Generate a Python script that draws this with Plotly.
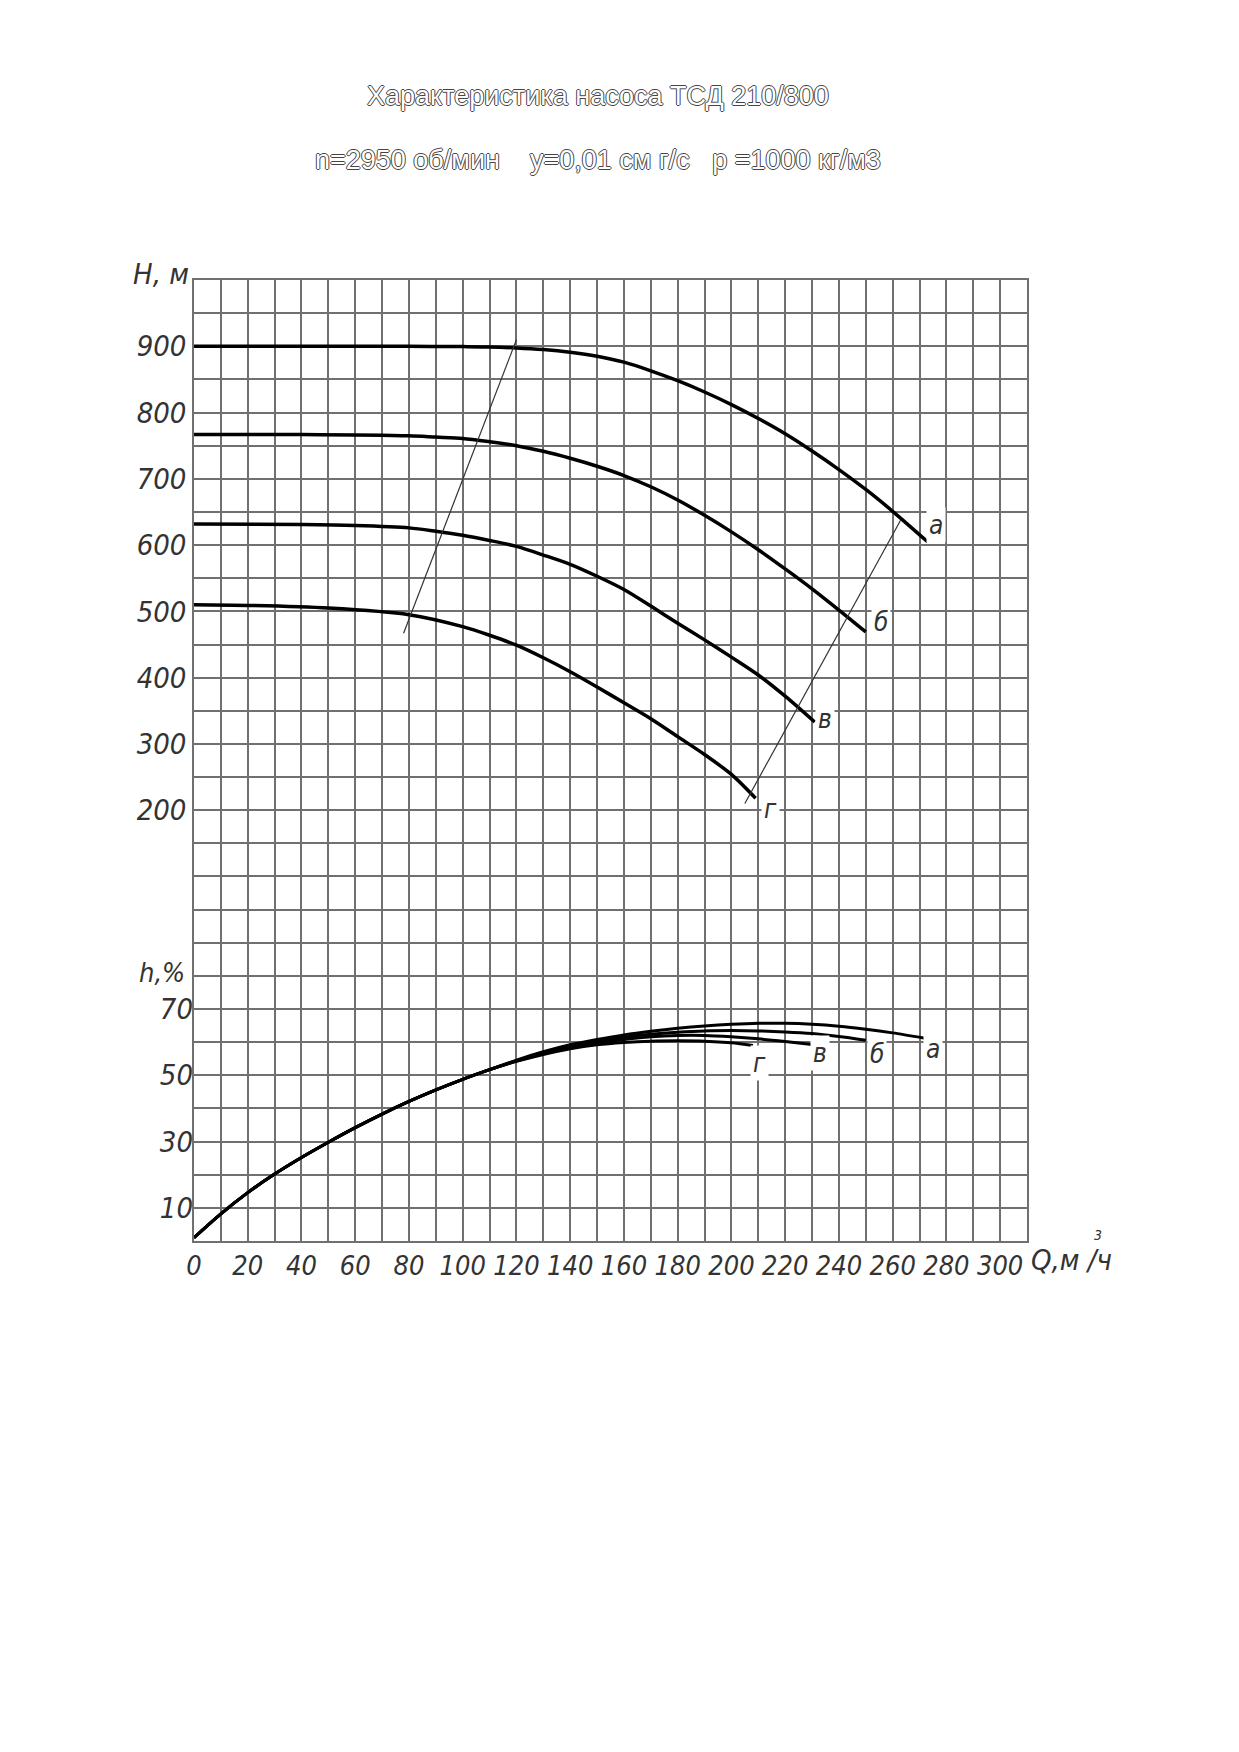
import plotly.graph_objects as go

# --- head curves H(Q), Q in m3/h, H in m ---
Q_a = [0, 40, 80, 100, 110, 120, 130, 140, 150, 160, 170, 180, 190, 200, 210, 220, 230, 240, 250, 260, 273]
H_a = [900, 900, 900, 899.5, 899, 897.5, 895, 891, 885, 876, 863, 848, 831, 812, 791, 768, 742, 714, 684, 651, 605]

Q_b = [0, 40, 80, 90, 100, 110, 120, 130, 140, 150, 160, 170, 180, 190, 200, 210, 220, 230, 240, 250]
H_b = [767, 767, 765, 763, 761, 756, 750, 741.5, 731, 719, 705, 688, 668, 645, 620, 593, 564, 534, 502, 469]

Q_v = [0, 40, 60, 80, 90, 100, 110, 120, 130, 140, 150, 160, 170, 180, 190, 200, 210, 220, 231]
H_v = [632, 631, 629.5, 626, 621, 615, 607, 598, 585, 571, 553, 533, 508, 482, 457, 431, 404, 372, 333]

Q_g = [0, 20, 50, 80, 100, 110, 120, 130, 140, 150, 160, 170, 180, 190, 200, 209]
H_g = [510, 509, 505, 495, 477, 464, 449, 430, 409, 386, 362, 338, 311, 284, 254, 218]

# working range boundaries (thin lines)
Q_left = [78, 120]
H_left = [467, 910]
Q_right = [205, 263]
H_right = [210, 638]

# --- efficiency curves, % ---
Q_eta_common = [0, 10, 20, 30, 40, 50, 60, 70, 80, 90, 100, 110]
eta_common = [1, 8.2, 14.6, 20.2, 25.2, 29.8, 34.2, 38.3, 42.1, 45.6, 48.8, 51.7]

Q_eta_a = [120, 130, 140, 150, 160, 170, 180, 190, 200, 210, 220, 230, 240, 250, 260, 272]
eta_a = [54.6, 57.1, 59.2, 60.8, 62.2, 63.3, 64.2, 64.9, 65.4, 65.7, 65.7, 65.4, 64.8, 63.9, 62.8, 61.2]
Q_eta_b = [120, 130, 140, 150, 160, 170, 180, 190, 200, 210, 220, 230, 240, 250]
eta_b = [54.4, 56.8, 58.8, 60.3, 61.5, 62.4, 63.0, 63.4, 63.5, 63.4, 63.1, 62.6, 61.7, 60.6]
Q_eta_v = [120, 130, 140, 150, 160, 170, 180, 190, 200, 210, 220, 230]
eta_v = [54.3, 56.6, 58.4, 59.8, 60.8, 61.6, 62.0, 62.0, 61.6, 61.0, 60.2, 59.3]
Q_eta_g = [120, 130, 140, 150, 160, 170, 180, 190, 200, 208]
eta_g = [54.2, 56.3, 58.0, 59.2, 59.9, 60.3, 60.4, 60.3, 59.8, 59.0]

# curve labels: name, Q, value
H_labels = [("а", 276, 630), ("б", 255.5, 484), ("в", 234.7, 338), ("г", 214.6, 202)]
eta_labels = [("а", 275, 57.8), ("б", 254.3, 56.3), ("в", 233, 56.8), ("г", 210.5, 53.8)]

H_ticks = [200, 300, 400, 500, 600, 700, 800, 900]
eta_ticks = [10, 30, 50, 70]
Q_ticks = list(range(0, 301, 20))

GRID = "#707070"
LBL_FONT = dict(family="Liberation Sans Narrow, DejaVu Sans Condensed, Liberation Sans, sans-serif",
                size=29, color="#333333", style="italic")

fig = go.Figure()

for q, h in [(Q_a, H_a), (Q_b, H_b), (Q_v, H_v), (Q_g, H_g)]:
    fig.add_trace(go.Scatter(x=q, y=h, mode="lines",
                             line=dict(color="black", width=3.5, shape="spline", smoothing=0.8)))

for q, h in [(Q_left, H_left), (Q_right, H_right)]:
    fig.add_trace(go.Scatter(x=q, y=h, mode="lines", line=dict(color="#333333", width=1.2)))

for q, e in [(Q_eta_a, eta_a), (Q_eta_b, eta_b), (Q_eta_v, eta_v), (Q_eta_g, eta_g)]:
    fig.add_trace(go.Scatter(x=Q_eta_common + q, y=eta_common + e, mode="lines", yaxis="y2",
                             line=dict(color="black", width=3, shape="spline", smoothing=0.8)))

# H grid every 50 m over the full height, labels only at H_ticks
grid_vals = list(range(-450, 1001, 50))
grid_text = [str(v) if v in H_ticks else "" for v in grid_vals]

annotations = []
for name, q, h in H_labels:
    annotations.append(dict(x=q, y=h, xref="x", yref="y", text=name, showarrow=False,
                            font=dict(LBL_FONT, size=26), bgcolor="white", borderpad=2))
for name, q, e in eta_labels:
    annotations.append(dict(x=q, y=e, xref="x", yref="y2", text=name, showarrow=False,
                            font=dict(LBL_FONT, size=26), bgcolor="white", borderpad=2))

annotations += [
    dict(x=-0.004, y=1.0065, xref="paper", yref="paper", text="H, м", showarrow=False,
         xanchor="right", yanchor="middle", font=LBL_FONT),
    dict(x=-0.008, y=0.279, xref="paper", yref="paper", text="h,%", showarrow=False,
         xanchor="right", yanchor="middle", font=dict(LBL_FONT, size=27)),
    dict(x=1.003, y=-0.0198, xref="paper", yref="paper", text="Q,м /ч", showarrow=False,
         xanchor="left", yanchor="middle", font=LBL_FONT),
    dict(x=1.092, y=0.006, xref="paper", yref="paper", text="3", showarrow=False,
         yanchor="middle", font=dict(LBL_FONT, size=14)),
]

TITLE_FONT = dict(family="Liberation Sans, Arial, sans-serif", size=27, color="white",
                  shadow="-1px 0 #444, 1px 0 #444, 0 -1px #444, 0 1px #444")
annotations += [
    dict(x=0.4844, y=1.1915, xref="paper", yref="paper", text="Характеристика насоса ТСД 210/800",
         showarrow=False, font=TITLE_FONT, yanchor="middle"),
    dict(x=0.4844, y=1.125, xref="paper", yref="paper",
         text="n=2950 об/мин&nbsp;&nbsp;&nbsp;&nbsp;y=0,01 см г/с&nbsp;&nbsp;&nbsp;p =1000 кг/м3",
         showarrow=False, font=TITLE_FONT, yanchor="middle"),
]

fig.update_layout(
    width=1239, height=1752,
    margin=dict(l=186, r=220, t=272, b=519),
    paper_bgcolor="white", plot_bgcolor="white",
    showlegend=False,
    annotations=annotations,
    xaxis=dict(range=[0, 310], tickmode="array", tickvals=Q_ticks, tickangle=0,
               showgrid=True, gridcolor=GRID, gridwidth=1.5,
               minor=dict(dtick=10, tick0=0, showgrid=True, gridcolor=GRID, gridwidth=1.5),
               zeroline=False, showline=True, mirror=True, linecolor=GRID, linewidth=1.5,
               ticks="", tickfont=dict(LBL_FONT, size=27)),
    yaxis=dict(range=[-450, 1000], tickmode="array", tickvals=grid_vals, ticktext=grid_text,
               showgrid=True, gridcolor=GRID, gridwidth=1.5,
               zeroline=False, showline=True, mirror=True, linecolor=GRID, linewidth=1.5,
               ticks="", tickfont=LBL_FONT),
    yaxis2=dict(range=[0, 290], overlaying="y", side="left", tickmode="array",
                tickvals=eta_ticks, showgrid=False, zeroline=False, showline=False,
                ticks="", tickfont=LBL_FONT),
)

fig.write_html("out.html")
